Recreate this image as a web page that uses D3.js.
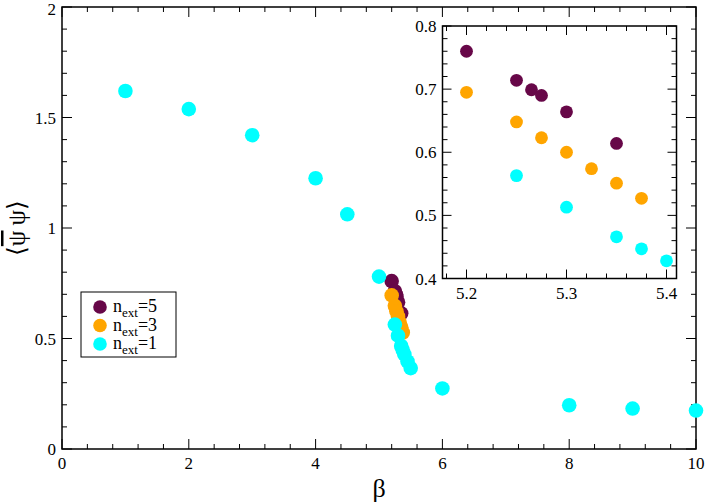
<!DOCTYPE html>
<html><head><meta charset="utf-8">
<script src="https://cdn.jsdelivr.net/npm/d3@7"></script>
<style>
body{margin:0;background:#fff;}
svg text{font-family:"Liberation Serif","Times New Roman",serif;fill:#000;}
</style></head>
<body>
<svg id="c" width="706" height="503"></svg>
<script>
// ---- data ----
const beta5 = [5.2, 5.25, 5.265, 5.275, 5.3, 5.35];
const pbp5  = [0.760, 0.714, 0.699, 0.690, 0.664, 0.614];
const beta3 = [5.2, 5.25, 5.275, 5.3, 5.325, 5.35, 5.375];
const pbp3  = [0.695, 0.648, 0.623, 0.600, 0.574, 0.551, 0.527];
const beta1 = [1, 2, 3, 4, 4.5, 5, 5.25, 5.3, 5.35, 5.375, 5.4, 5.45, 5.5, 6, 8, 9, 10];
const pbp1  = [1.620, 1.538, 1.420, 1.225, 1.062, 0.780, 0.563, 0.513, 0.466, 0.447, 0.428, 0.396, 0.366, 0.274, 0.198, 0.183, 0.174];
const seriesNames = ["5", "3", "1"];
const colors = ["#670748", "#ffa500", "#00ffff"];
const mainXTicks = [0, 2, 4, 6, 8, 10];
const mainYTicks = [0, 0.5, 1, 1.5, 2];
const insetXTicks = [5.2, 5.3, 5.4];
const insetYTicks = [0.4, 0.5, 0.6, 0.7, 0.8];

const series = [
  {name: seriesNames[0], color: colors[0], x: beta5, y: pbp5},
  {name: seriesNames[1], color: colors[1], x: beta3, y: pbp3},
  {name: seriesNames[2], color: colors[2], x: beta1, y: pbp1}
];

const svg = d3.select("#c");
svg.append("rect").attr("width",706).attr("height",503).attr("fill","#fff");

function frame(g, x, y, xTicks, yTicks, xMinor, yMinor, fmtX, fmtY, major, minor) {
  const [x0, x1] = x.range(), [y0, y1] = y.range();
  const tk = g.append("g").attr("stroke","#000").attr("stroke-width",1);
  xMinor.forEach(v => {
    const L = xTicks.some(t => Math.abs(t - v) < 1e-9) ? major : minor;
    tk.append("line").attr("x1",x(v)).attr("x2",x(v)).attr("y1",y0).attr("y2",y0-L);
    tk.append("line").attr("x1",x(v)).attr("x2",x(v)).attr("y1",y1).attr("y2",y1+L);
  });
  yMinor.forEach(v => {
    const L = yTicks.some(t => Math.abs(t - v) < 1e-9) ? major : minor;
    tk.append("line").attr("y1",y(v)).attr("y2",y(v)).attr("x1",x0).attr("x2",x0+L);
    tk.append("line").attr("y1",y(v)).attr("y2",y(v)).attr("x1",x1).attr("x2",x1-L);
  });
  g.append("rect").attr("x",x0).attr("y",y1).attr("width",x1-x0).attr("height",y0-y1)
    .attr("fill","none").attr("stroke","#000").attr("stroke-width",1.5);
  g.append("g").selectAll("text").data(xTicks).join("text")
    .attr("x",d=>x(d)).attr("y",y0+20).attr("text-anchor","middle").attr("font-size",17)
    .text(fmtX);
  g.append("g").selectAll("text").data(yTicks).join("text")
    .attr("x",x0-6).attr("y",d=>Math.max(y(d)+6, 15)).attr("text-anchor","end").attr("font-size",17)
    .text(fmtY);
}

function range(a, b, s) { const out=[]; const n=Math.round((b-a)/s); for(let i=0;i<=n;i++) out.push(+(a+i*s).toFixed(6)); return out; }

// ---- main plot ----
const x = d3.scaleLinear().domain([0,10]).range([62,696]);
const y = d3.scaleLinear().domain([0,2]).range([449,7]);
const gm = svg.append("g");
frame(gm, x, y, mainXTicks, mainYTicks, range(0,10,0.4), range(0,2,0.1),
      d3.format("d"), d=>String(d), 10, 5);

series.forEach(s => {
  gm.append("g").selectAll("circle").data(s.x.map((v,i)=>[v,s.y[i]])).join("circle")
    .attr("cx",d=>x(d[0])).attr("cy",d=>y(d[1])).attr("r",7.3).attr("fill",s.color);
});

// axis labels
svg.append("text").attr("x",379).attr("y",497).attr("text-anchor","middle")
  .attr("font-size",26).text("β");
const yl = svg.append("text").attr("transform","translate(25,228) rotate(-90)")
  .attr("text-anchor","middle").attr("font-size",25);
yl.append("tspan").text("⟨");
yl.append("tspan").attr("text-decoration","overline").text("ψ");
yl.append("tspan").text("\u2009ψ⟩");

// legend
const lg = svg.append("g");
lg.append("rect").attr("x",81).attr("y",292).attr("width",95).attr("height",65)
  .attr("fill","#fff").attr("stroke","#000").attr("stroke-width",1);
series.forEach((s,i) => {
  const cy = 307 + i*18.5;
  lg.append("circle").attr("cx",100).attr("cy",cy).attr("r",6.8).attr("fill",s.color);
  const t = lg.append("text").attr("x",113).attr("y",cy+5).attr("font-size",18);
  t.append("tspan").text("n");
  t.append("tspan").attr("font-size",13).attr("dy",5).text("ext");
  t.append("tspan").attr("dy",-5).text("=" + s.name);
});

// ---- inset ----
const xi = d3.scaleLinear().domain([5.176,5.41]).range([442.5,676.5]);
const yi = d3.scaleLinear().domain([0.4,0.8]).range([278.5,26]);
const gi = svg.append("g");
gi.append("rect").attr("x",442.5).attr("y",26).attr("width",234).attr("height",252.5).attr("fill","#fff");
svg.append("clipPath").attr("id","ic").append("rect")
  .attr("x",442.5).attr("y",26).attr("width",234).attr("height",252.5);
const gd = gi.append("g").attr("clip-path","url(#ic)");
series.forEach(s => {
  gd.append("g").selectAll("circle").data(s.x.map((v,i)=>[v,s.y[i]])).join("circle")
    .attr("cx",d=>xi(d[0])).attr("cy",d=>yi(d[1])).attr("r",6.4).attr("fill",s.color);
});
frame(gi, xi, yi, insetXTicks, insetYTicks, range(5.18,5.40,0.02), range(0.4,0.8,0.02),
      d3.format(".1f"), d3.format(".1f"), 9, 5);
</script>
</body></html>
